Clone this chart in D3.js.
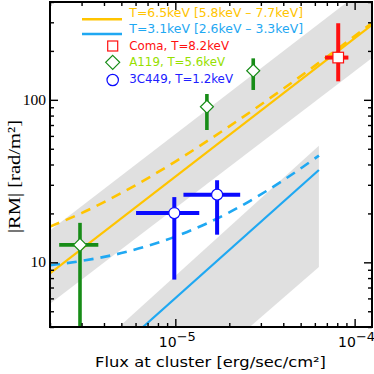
<!DOCTYPE html>
<html><head><meta charset="utf-8">
<script src="https://cdn.jsdelivr.net/npm/d3@7"></script>
<style>body{margin:0;background:#fff}svg{display:block}</style>
</head><body><svg id="c" width="374" height="374"></svg>
<script>
// ---------- data ----------
const xDomain = [2e-6, 1.25e-4];
const yDomain = [4, 400];
const xMajorTicks = [1e-5, 1e-4];
const xTickExp = ["−5", "−4"];
const yMajorTicks = [10, 100];
const yTickLabels = ["10", "100"];

// T=6.5 keV model (yellow)
const hotLineF = [2e-6, 1.25e-4];
const hotLineRM = [8.55, 289];
const hotDashF = [2e-6, 3e-6, 5e-6, 1e-5, 2e-5, 4e-5, 8e-5, 1.25e-4];
const hotDashRM = [16.6, 20.1, 26.7, 41.7, 68.7, 117, 205, 297];
const hotBandF = [2e-6, 1.25e-4];
const hotBandUpper = [15.7, 524];
const hotBandLower = [5.57, 181];

// T=3.1 keV model (blue)
const coolLineF = [6.6e-6, 6.32e-5];
const coolLineRM = [4, 37];
const coolDashF = [2e-6, 3e-6, 5e-6, 1e-5, 2e-5, 4e-5, 6.32e-5];
const coolDashRM = [9.6, 10.2, 11.4, 14.4, 20.3, 32, 45.4];
const coolBandF = [4.85e-6, 6.32e-5, 6.32e-5, 2.6e-5];
const coolBandRM = [4, 52.2, 9.36, 4];

// clusters
const comaF = [8.1e-5], comaRM = [182];
const comaFLo = [6.84e-5], comaFHi = [9.23e-5];
const comaRMLo = [130], comaRMHi = [296];

const a119F = [2.94e-6, 1.5e-5, 2.72e-5], a119RM = [12.8, 90.7, 151];
const a119FLo = [2.25e-6, 1.5e-5, 2.72e-5], a119FHi = [3.72e-6, 1.5e-5, 2.72e-5];
const a119RMLo = [1, 65.2, 115], a119RMHi = [17.5, 108.6, 180];

const c449F = [9.87e-6, 1.71e-5], c449RM = [20.1, 26.1];
const c449FLo = [6.04e-6, 1.11e-5], c449FHi = [1.36e-5, 2.30e-5];
const c449RMLo = [7.83, 14.8], c449RMHi = [25.2, 32];

const legendLabels = ["T=6.5keV [5.8keV – 7.7keV]", "T=3.1keV [2.6keV – 3.3keV]",
  "Coma, T=8.2keV", "A119, T=5.6keV", "3C449, T=1.2keV"];

// ---------- styling ----------
const YEL = "#ffc400", LBLUE = "#1fa8f2", RED = "#ff1010", GREEN = "#178c17",
      LIME = "#96e000", BLUE = "#0a0aff", BLUETXT = "#2020ff", GRAY = "#e0e0e0";

const L = 50, R = 372, T = 2, B = 327;
const svg = d3.select("#c");
const x = d3.scaleLog().domain(xDomain).range([L, R]);
const y = d3.scaleLog().domain(yDomain).range([B, T]);

svg.append("defs").append("clipPath").attr("id", "clip")
  .append("rect").attr("x", L).attr("y", T).attr("width", R - L).attr("height", B - T);
const plot = svg.append("g").attr("clip-path", "url(#clip)");

// bands
const area = d3.area().x(d => x(d[0])).y0(d => y(d[1])).y1(d => y(d[2]));
plot.append("path").datum(hotBandF.map((f, i) => [f, hotBandLower[i], hotBandUpper[i]]))
  .attr("d", area).attr("fill", GRAY);
const poly = d3.line().x(d => x(d[0])).y(d => y(d[1]));
plot.append("path").datum(coolBandF.map((f, i) => [f, coolBandRM[i]]))
  .attr("d", poly + "").attr("d", poly(coolBandF.map((f, i) => [f, coolBandRM[i]])) + "Z")
  .attr("fill", GRAY);

// model lines
const curve = d3.line().x(d => x(d[0])).y(d => y(d[1])).curve(d3.curveMonotoneX);
function drawLine(F, RM, color, dash) {
  plot.append("path").datum(F.map((f, i) => [f, RM[i]]))
    .attr("d", curve).attr("fill", "none").attr("stroke", color)
    .attr("stroke-width", dash ? 2.6 : 2.2)
    .attr("stroke-dasharray", dash ? "10,7" : null);
}
drawLine(hotDashF, hotDashRM, YEL, true);
drawLine(hotLineF, hotLineRM, YEL, false);
drawLine(coolDashF, coolDashRM, LBLUE, true);
drawLine(coolLineF, coolLineRM, LBLUE, false);

// error bars
function errBars(F, RM, FLo, FHi, RMLo, RMHi, color, w) {
  F.forEach((f, i) => {
    plot.append("line").attr("x1", x(f)).attr("x2", x(f))
      .attr("y1", y(RMLo[i])).attr("y2", y(RMHi[i]))
      .attr("stroke", color).attr("stroke-width", w);
    plot.append("line").attr("x1", x(FLo[i])).attr("x2", x(FHi[i]))
      .attr("y1", y(RM[i])).attr("y2", y(RM[i]))
      .attr("stroke", color).attr("stroke-width", w);
  });
}
errBars(a119F, a119RM, a119FLo, a119FHi, a119RMLo, a119RMHi, GREEN, 3.6);
errBars(c449F, c449RM, c449FLo, c449FHi, c449RMLo, c449RMHi, BLUE, 4);
errBars(comaF, comaRM, comaFLo, comaFHi, comaRMLo, comaRMHi, RED, 4);

// markers
const diamond = (cx, cy, r) => `M${cx},${cy - r}L${cx + r},${cy}L${cx},${cy + r}L${cx - r},${cy}Z`;
a119F.forEach((f, i) => plot.append("path").attr("d", diamond(x(f), y(a119RM[i]), 6.5))
  .attr("fill", "#fff").attr("stroke", GREEN).attr("stroke-width", 1.2));
c449F.forEach((f, i) => plot.append("circle").attr("cx", x(f)).attr("cy", y(c449RM[i])).attr("r", 5.5)
  .attr("fill", "#fff").attr("stroke", BLUE).attr("stroke-width", 1.2));
comaF.forEach((f, i) => plot.append("rect").attr("x", x(f) - 5.3).attr("y", y(comaRM[i]) - 5.3)
  .attr("width", 10.6).attr("height", 10.6)
  .attr("fill", "#fff").attr("stroke", RED).attr("stroke-width", 1.2));

// axes (ticks inward on all four sides)
const xMinor = x.ticks().filter(v => !xMajorTicks.some(m => Math.abs(m - v) / m < 1e-6));
const yMinor = y.ticks().filter(v => !yMajorTicks.some(m => Math.abs(m - v) / m < 1e-6));
function ax(gen, scale, vals, size, tr) {
  const g = svg.append("g").attr("transform", tr)
    .call(gen(scale).tickValues(vals).tickSize(size).tickFormat(""));
  g.select(".domain").remove();
  g.selectAll("line").attr("stroke", "#000").attr("stroke-width", 1.4);
}
ax(d3.axisBottom, x, xMajorTicks, -8, `translate(0,${B})`);
ax(d3.axisBottom, x, xMinor, -4, `translate(0,${B})`);
ax(d3.axisTop, x, xMajorTicks, -8, `translate(0,${T})`);
ax(d3.axisTop, x, xMinor, -4, `translate(0,${T})`);
ax(d3.axisLeft, y, yMajorTicks, -8, `translate(${L},0)`);
ax(d3.axisLeft, y, yMinor, -4, `translate(${L},0)`);
ax(d3.axisRight, y, yMajorTicks, -8, `translate(${R},0)`);
ax(d3.axisRight, y, yMinor, -4, `translate(${R},0)`);

svg.append("rect").attr("x", L).attr("y", T).attr("width", R - L).attr("height", B - T)
  .attr("fill", "none").attr("stroke", "#000").attr("stroke-width", 2);

// tick labels
xMajorTicks.forEach((v, i) => {
  const t = svg.append("text").attr("x", x(v) + 2).attr("y", 347).attr("text-anchor", "middle")
    .attr("font-family", "DejaVu Sans").attr("font-size", 14).attr("fill", "#000");
  t.append("tspan").text("10");
  t.append("tspan").attr("dy", -6).attr("font-size", 13).text(xTickExp[i]);
});
yMajorTicks.forEach((v, i) => {
  svg.append("text").attr("x", 46).attr("y", y(v) + 5).attr("text-anchor", "end")
    .attr("font-family", "Liberation Serif").attr("font-size", 15.5).attr("fill", "#000")
    .text(yTickLabels[i]);
});

// axis titles
svg.append("text").attr("x", 95).attr("y", 367)
  .attr("font-family", "DejaVu Sans").attr("font-size", 14).attr("fill", "#000")
  .attr("textLength", 231).attr("lengthAdjust", "spacingAndGlyphs")
  .text("Flux at cluster [erg/sec/cm²]");
svg.append("text").attr("transform", "translate(20,176.5) rotate(-90)")
  .attr("text-anchor", "middle")
  .attr("font-family", "Liberation Serif").attr("font-size", 17).attr("fill", "#000")
  .attr("textLength", 113).attr("lengthAdjust", "spacingAndGlyphs")
  .text("|RM| [rad/m²]");

// legend
const lg = svg.append("g");
const legY = [17.3, 33.3, 50, 65.7, 83.3];
const legEnd = [303, 303, 229, 225, 233];
const legCol = [YEL, LBLUE, RED, LIME, BLUETXT];
legendLabels.forEach((s, i) => {
  lg.append("text").attr("x", 129.3).attr("y", legY[i])
    .attr("font-family", "DejaVu Sans").attr("font-size", 11.5).attr("fill", legCol[i])
    .attr("textLength", legEnd[i] - 129.3).attr("lengthAdjust", "spacingAndGlyphs")
    .text(s);
});
lg.append("line").attr("x1", 82).attr("x2", 122).attr("y1", 19.3).attr("y2", 19.3)
  .attr("stroke", YEL).attr("stroke-width", 2.6);
lg.append("line").attr("x1", 82).attr("x2", 122).attr("y1", 34).attr("y2", 34)
  .attr("stroke", LBLUE).attr("stroke-width", 2.6);
lg.append("rect").attr("x", 112.7 - 5).attr("y", 46 - 5).attr("width", 10).attr("height", 10)
  .attr("fill", "none").attr("stroke", RED).attr("stroke-width", 1.2);
lg.append("path").attr("d", diamond(112.7, 62.3, 7))
  .attr("fill", "none").attr("stroke", GREEN).attr("stroke-width", 1.2);
lg.append("circle").attr("cx", 112.7).attr("cy", 80).attr("r", 5.7)
  .attr("fill", "none").attr("stroke", BLUE).attr("stroke-width", 1.2);
</script></body></html>
